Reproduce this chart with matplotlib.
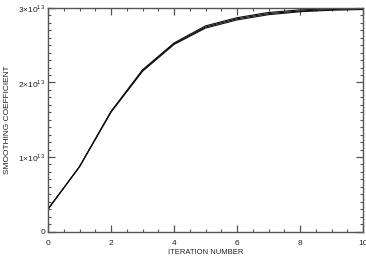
import matplotlib
matplotlib.use("Agg")
import matplotlib.pyplot as plt
from matplotlib.ticker import MultipleLocator, FixedLocator

iterations = list(range(11))
curve_a = [0.30, 0.87, 1.61, 2.17, 2.53, 2.76, 2.87, 2.94, 2.975, 2.99, 3.00]
curve_b = [0.30, 0.87, 1.61, 2.16, 2.52, 2.745, 2.855, 2.925, 2.96, 2.98, 2.99]
curve_c = [0.30, 0.87, 1.60, 2.15, 2.51, 2.73, 2.84, 2.91, 2.95, 2.97, 2.98]
scale = 1e13
x_ticks = [0, 2, 4, 6, 8, 10]
y_ticks = [0, 1e13, 2e13, 3e13]
y_tick_labels = ["0", r"1$\times$10$^{13}$", r"2$\times$10$^{13}$", r"3$\times$10$^{13}$"]

plt.rcParams['font.family'] = ['Liberation Sans', 'DejaVu Sans']
plt.rcParams['mathtext.fontset'] = 'custom'
plt.rcParams['mathtext.rm'] = 'Liberation Sans'

fig = plt.figure(figsize=(3.66, 2.58), dpi=100)
ax = fig.add_axes([48/366, (258-231.5)/258, (363-48)/366, (231.5-8)/258])

for c in (curve_a, curve_b, curve_c):
    ax.plot(iterations, [v*scale for v in c], color='#111111', lw=0.8)

ax.set_xlim(0, 10)
ax.set_ylim(0, 3e13)
ax.xaxis.set_major_locator(FixedLocator(x_ticks))
ax.xaxis.set_minor_locator(MultipleLocator(0.5))
ax.yaxis.set_major_locator(FixedLocator(y_ticks))
ax.yaxis.set_minor_locator(MultipleLocator(0.1e13))
ax.set_xticklabels([str(t) for t in x_ticks])
ax.set_yticklabels(y_tick_labels)

gray = '#555555'
for s in ax.spines.values():
    s.set_color(gray)
    s.set_linewidth(1.0)
ax.tick_params(which='both', direction='in', top=True, right=True, color=gray,
               labelsize=6, labelcolor='#222222')
ax.tick_params(axis='x', pad=6)
ax.tick_params(axis='y', pad=2)
ax.tick_params(which='major', length=5, width=0.9)
ax.tick_params(which='minor', length=2.5, width=0.8)

ax.set_xlabel("ITERATION NUMBER", fontsize=5.5, color='#222222', labelpad=1.5)
ax.set_ylabel("SMOOTHING COEFFICIENT", fontsize=6, color='#222222')
ax.yaxis.set_label_coords(-0.117, 0.5)

fig.savefig("out.png", dpi=100)
